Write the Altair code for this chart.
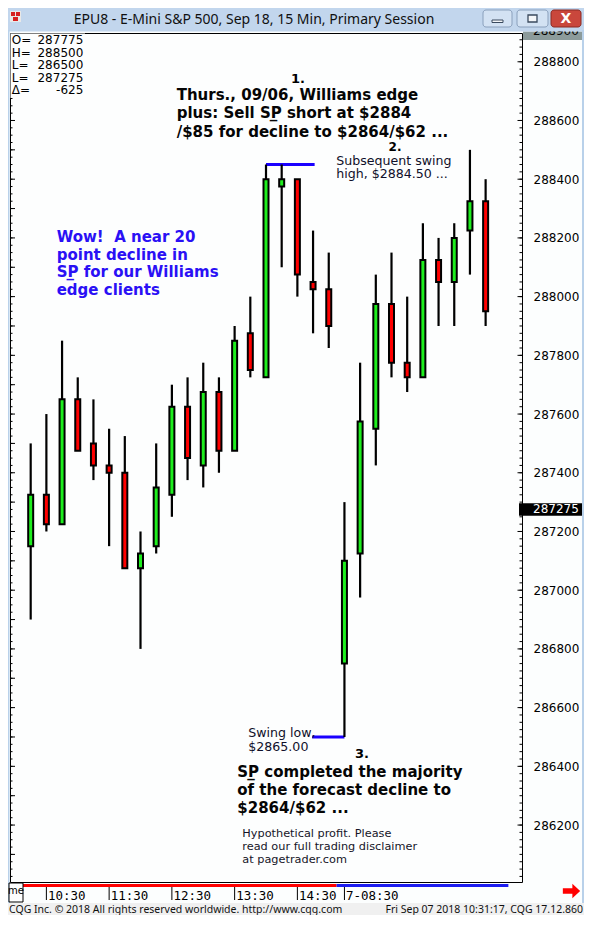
import altair as alt
import pandas as pd
import numpy as np

# ---------------- data ----------------
times = ["10:15", "10:30", "10:45", "11:00", "11:15", "11:30", "11:45", "12:00", "12:15", "12:30",
         "12:45", "13:00", "13:15", "13:30", "13:45", "14:00", "14:15", "14:30", "14:45", "15:00",
         "08:30", "08:45", "09:00", "09:15", "09:30", "09:45", "10:00", "10:15", "10:30", "10:45"]
opens = [287150, 287325, 287225, 287650, 287500, 287425, 287400, 287075, 287150, 287325,
         287625, 287425, 287675, 287475, 287875, 287725, 288375, 288400, 288050, 288025,
         286750, 287125, 287550, 287975, 287775, 287725, 288125, 288050, 288225, 288325]
highs = [287500, 287600, 287850, 287725, 287650, 287550, 287525, 287200, 287500, 287700,
         287725, 287775, 287725, 287900, 288000, 288450, 288450, 288400, 288225, 288150,
         287300, 287775, 288075, 288150, 288000, 288250, 288200, 288250, 288500, 288400]
lows = [286900, 287200, 287225, 287475, 287375, 287150, 287075, 286800, 287125, 287250,
        287375, 287350, 287400, 287475, 287725, 287725, 288100, 288000, 287875, 287825,
        286500, 286975, 287425, 287725, 287675, 287725, 287900, 287900, 288075, 287900]
closes = [287325, 287225, 287650, 287475, 287425, 287400, 287075, 287125, 287350, 287625,
          287450, 287675, 287475, 287850, 287750, 288400, 288400, 288075, 288025, 287900,
          287100, 287575, 287975, 287775, 287725, 288125, 288050, 288200, 288325, 287950]
session1_bars = 20  # Sep 6 bars, the rest are Sep 7

axis_tick_idx = [1, 5, 9, 13, 17, 20]
axis_tick_lbl = ["10:30", "11:30", "12:30", "13:30", "14:30", "7-08:30"]
price_labels = list(range(286200, 288801, 200))
top_price = 288900
last_price = 287275
swing_high = 288450
swing_low = 286500

hdr_keys = ["O=", "H=", "L=", "L=", "Δ="]
hdr_vals = ["287775", "288500", "286500", "287275", "-625"]

GREEN = "#1eee1e"
RED = "#ff0000"
BLUE = "#1a00ff"
W, H = 512, 849

xscale = alt.Scale(domain=[-1, 31], nice=False, zero=False)
yscale = alt.Scale(domain=[286006, 288898], nice=False, zero=False)

lbl_expr = "".join(f"datum.value == {v} ? '{t}' : " for v, t in zip(axis_tick_idx, axis_tick_lbl)) + "''"
xaxis = alt.Axis(values=axis_tick_idx, labelExpr=lbl_expr, title=None, ticks=False, tickSize=0,
                 domain=False, grid=False, labelAlign="left", labelBaseline="middle", labelPadding=13,
                 labelOffset=1, labelFont="DejaVu Sans Mono", labelFontSize=12.5, labelColor="black",
                 labelOverlap=False, labelFlush=False)
yaxis = alt.Axis(orient="right", values=price_labels, format="d", title=None, ticks=False, tickSize=0,
                 domain=False, grid=False, labelAlign="left", labelBaseline="middle", labelPadding=11,
                 labelFont="DejaVu Sans", labelFontSize=12, labelColor="black", labelOverlap=False,
                 labelFlush=False)


def X(f):
    return alt.X(f, scale=xscale, axis=xaxis)


def Y(f):
    return alt.Y(f, scale=yscale, axis=yaxis)


one = pd.DataFrame({"k": [0]})


def vrect(x, x2, y, y2, fill, stroke=None, sw=1, cr=0):
    kw = dict(fill=fill)
    if stroke:
        kw.update(stroke=stroke, strokeWidth=sw)
    if cr:
        kw["cornerRadius"] = cr
    return alt.Chart(one).mark_rect(**kw).encode(x=alt.value(x), x2=alt.value(x2),
                                                 y=alt.value(y), y2=alt.value(y2))


def vtext(x, y, text, size=12, font="DejaVu Sans", weight="normal", color="black",
          align="left", lh=None, baseline="middle"):
    kw = dict(text=text, fontSize=size, font=font, fontWeight=weight, color=color,
              align=align, baseline=baseline)
    if lh:
        kw["lineHeight"] = lh
    return alt.Chart(one).mark_text(**kw).encode(x=alt.value(x), y=alt.value(y))


df = pd.DataFrame({"i": list(range(len(times))), "time": times, "open": opens, "high": highs,
                   "low": lows, "close": closes})
df["dir"] = np.where(df["close"] >= df["open"], "up", "down")

# axis tick marks (inside the frame)
tv = np.arange(286025, 288876, 25)
ticks = pd.DataFrame({"v": tv, "m100": tv % 100 == 0, "m200": tv % 200 == 0})
tick_layers = [
    alt.Chart(ticks).mark_rule(color="black", strokeWidth=1).encode(
        y=Y("v:Q"), x=alt.value(0), x2=alt.value(2.5)),
    alt.Chart(ticks[ticks.m100]).mark_rule(color="black", strokeWidth=1).encode(
        y=Y("v:Q"), x=alt.value(0), x2=alt.value(5)),
    alt.Chart(ticks).mark_rule(color="black", strokeWidth=1).encode(
        y=Y("v:Q"), x=alt.value(W - 2.5), x2=alt.value(W)),
    alt.Chart(ticks[ticks.m200]).mark_rule(color="black", strokeWidth=1).encode(
        y=Y("v:Q"), x=alt.value(W - 4.5), x2=alt.value(W)),
]

time_ticks = alt.Chart(pd.DataFrame({"i": axis_tick_idx})).mark_rule(color="black", strokeWidth=1).encode(
    x=X("i:Q"), y=alt.value(853), y2=alt.value(867))

sessions = pd.DataFrame({"s0": [-0.5, session1_bars - 0.5], "s1": [session1_bars - 0.5, len(times) + 0.45],
                         "c": [RED, "#1c1cf0"]})
session_band = alt.Chart(sessions).mark_rect().encode(
    x=X("s0:Q"), x2="s1:Q", y=alt.value(851), y2=alt.value(854), color=alt.Color("c:N", scale=None))

wicks = alt.Chart(df).mark_rule(color="black", strokeWidth=2.2).encode(
    x=X("i:Q"), y=Y("low:Q"), y2="high:Q")
bodies = alt.Chart(df).mark_bar(size=5, stroke="black", strokeWidth=2).encode(
    x=X("i:Q"), y=Y("open:Q"), y2="close:Q",
    color=alt.Color("dir:N", scale=alt.Scale(domain=["up", "down"], range=[GREEN, RED]), legend=None))

hi_i = highs.index(swing_high)
lo_i = lows.index(swing_low)
swings = pd.DataFrame({"p": [swing_high, swing_low], "i0": [hi_i, lo_i - 2.06], "i1": [hi_i + 3.1, lo_i]})
swing_lines = alt.Chart(swings).mark_rule(color=BLUE, strokeWidth=3).encode(
    x=X("i0:Q"), x2="i1:Q", y=Y("p:Q"))

# header box (y = first line centre)
header = [
    vrect(0.5, 75, 0.5, 65, "#fdfefe"),
    vtext(1.7, 7, hdr_keys, size=12, lh=12.6),
    vtext(73.3, 7, hdr_vals, size=12, lh=12.6, align="right"),
]

# annotations (y = first line centre)
notes = [
    vtext(288, 46, "1.", size=13, weight="bold", align="center"),
    vtext(166.7, 62, ["Thurs., 09/06, Williams edge", "plus: Sell SP\u0332 short at $2884",
                      "/$85 for decline to $2864/$62 ..."], size=15, weight="bold", lh=18.3, color="#050505"),
    vtext(385, 114, "2.", size=12, weight="bold", align="center"),
    vtext(326.3, 127.5, ["Subsequent swing", "high, $2884.50 ..."], size=12.6, lh=13.3, color="#10102a"),
    vtext(46.7, 203.7, ["Wow!\u00a0 A near 20", "point decline in", "SP\u0332 for our Williams", "edge clients"],
          size=15, weight="bold", lh=17.9, color="#2a10f5"),
    vtext(238.3, 699.7, ["Swing low,", "$2865.00"], size=12.6, lh=14, color="#10102a"),
    vtext(352, 721, "3.", size=13, weight="bold", align="center"),
    vtext(227.3, 739, ["SP\u0332 completed the majority", "of the forecast decline to", "$2864/$62 ..."],
          size=15, weight="bold", lh=18.2, color="#050505"),
    vtext(232.3, 801, ["Hypothetical profit. Please", "read our full trading disclaimer",
                       "at pagetrader.com"], size=11.3, lh=13, color="#151528"),
]

last_df = pd.DataFrame({"p": [last_price]})
last_box = alt.Chart(last_df).mark_rule(color="black", strokeWidth=12.4, strokeCap="butt").encode(
    x=alt.value(509), x2=alt.value(572), y=Y("p:Q"))
last_txt = alt.Chart(last_df).mark_text(align="left", baseline="middle", font="DejaVu Sans", fontSize=12,
                                        color="white").encode(x=alt.value(523), y=Y("p:Q"), text="p:Q")

top_box = vrect(513, 572, -1.5, 7, "#8c9b9b")
top_txt = alt.Chart(pd.DataFrame({"p": [top_price]})).mark_text(
    align="left", baseline="middle", font="DejaVu Sans", fontSize=12, color="black", dy=-1.5).encode(
    x=alt.value(523), y=Y("p:Q"), text="p:Q")

FRAME = "#b9d1ea"
chrome = [
    vrect(-2, 576, -25, -1.5, "#c2d6ed"),
    vrect(-2, -0.5, -3, 871, FRAME),
    vrect(572, 576, -3, 871, FRAME),
    vrect(-2, 576, 870, 882, "#f0f0f0"),
    # icon
    vrect(0, 11, -22, -11, "#e8e8e8"),
    vrect(1, 5, -21, -17, "#d62020"),
    vrect(6, 10, -21, -17, "#d62020"),
    vrect(3, 8, -16, -12, "#d62020"),
    # buttons
    vrect(473, 502, -23, -6, "#d3e2f3", stroke="#8aa0bc", sw=1, cr=3),
    vrect(507, 538, -23, -6, "#d3e2f3", stroke="#8aa0bc", sw=1, cr=3),
    vrect(541, 571, -23, -6, "#c9473c", stroke="#8c2a22", sw=1, cr=3),
    vrect(482, 493, -13, -10.5, "#f4f6f8", stroke="#3a4a5e", sw=1),
    vrect(518, 527, -18, -11, "#f4f6f8", stroke="#3a4a5e", sw=1.3),
    vtext(556, -14.5, "X", size=14, weight="bold", color="white", align="center", font="DejaVu Sans"),
    vtext(244, -13.5, "EPU8 - E-Mini S&P 500, Sep 18, 15 Min, Primary Session", size=14,
          font="Noto Sans", color="#101010", align="center"),
    # footer
    vtext(-1, 876.5, "CQG Inc. \u00a9 2018 All rights reserved worldwide. http://www.cqg.com", size=10.5,
          font="Noto Sans", color="#101010"),
    vtext(573, 876.5, "Fri Sep 07 2018 10:31:17, CQG 17.12.860", size=10.5, font="Noto Sans",
          color="#101010", align="right"),
    # bottom-left box
    vrect(-1, 13, 850, 869, "#fdfefe", stroke="black", sw=1),
    vtext(6, 858, "me", size=10, align="center"),
]

arrow = alt.Chart(one).mark_point(
    shape="M-1,-0.32L0.1,-0.32L0.1,-0.85L1,0L0.1,0.85L0.1,0.32L-1,0.32Z",
    filled=True, fill="#ff0000", size=300, strokeWidth=0, opacity=1).encode(
    x=alt.value(561.5), y=alt.value(858))

layers = (tick_layers + [time_ticks, session_band] + header + [swing_lines, wicks, bodies] + notes
          + [last_box, last_txt, top_box, top_txt] + chrome + [arrow])

chart = alt.layer(*layers).properties(
    width=W, height=H,
    padding={"left": 2, "top": 25, "right": 62, "bottom": 33},
    autosize=alt.AutoSizeParams(type="none"),
    background="#fcfefe",
).configure_view(stroke="black", strokeWidth=1, fill="#fdfefe")

chart.save("out.html", embed_options={"renderer": "svg", "actions": False})
